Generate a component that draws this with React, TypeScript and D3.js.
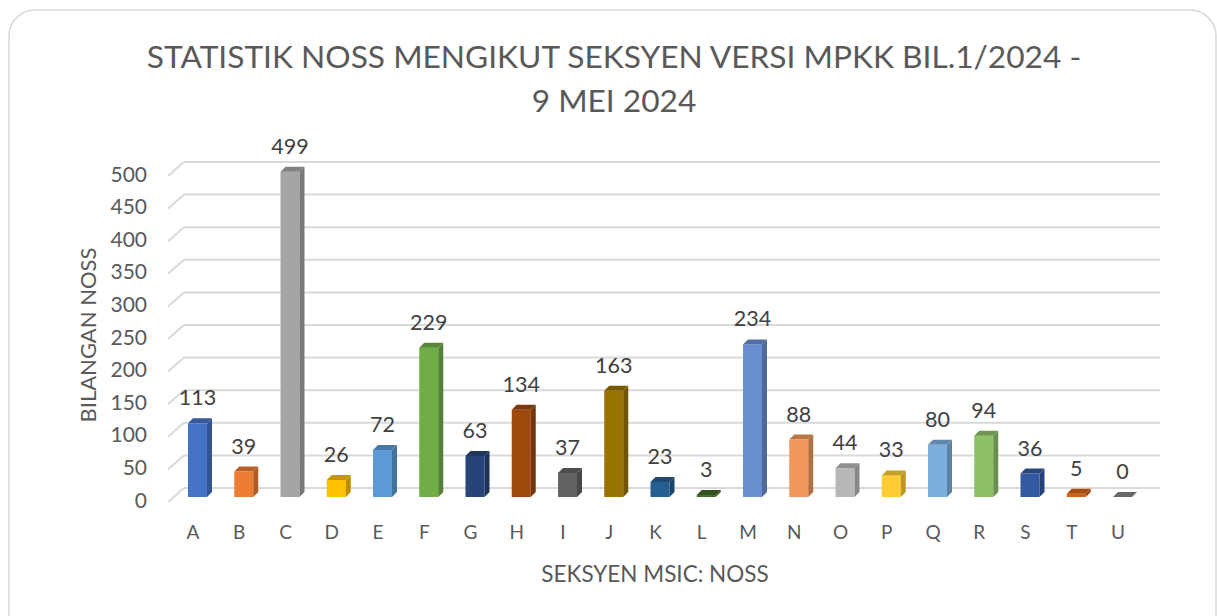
import React from "react";
import * as d3 from "d3";

const categories = ["A","B","C","D","E","F","G","H","I","J","K","L","M","N","O","P","Q","R","S","T","U"];
const values = [113,39,499,26,72,229,63,134,37,163,23,3,234,88,44,33,80,94,36,5,0];
const colors = ["#4472C4","#ED7D31","#A5A5A5","#FFC000","#5B9BD5","#70AD47","#264478","#9E480E","#636363","#997300","#255E91","#43682B","#698ED0","#F1975A","#B7B7B7","#FFCD33","#7CAFDD","#8CC168","#335AA1","#D26012","#848484"];
const yTicks = [0,50,100,150,200,250,300,350,400,450,500];
const titleLines = ["STATISTIK NOSS MENGIKUT SEKSYEN VERSI MPKK BIL.1/2024 -", "9 MEI 2024"];
const yAxisTitle = "BILANGAN NOSS";
const xAxisTitle = "SEKSYEN MSIC: NOSS";

const W = 1217, H = 616;
const FONT = "Lato, 'Open Sans', sans-serif";
const TXT = "#595959";

export default function App() {
  const x = d3.scalePoint<string>().domain(categories).range([193, 1118]);
  const h = d3.scaleLinear().domain([0, 500]).range([0, 326]);
  const floorFront = 502, floorBack = 488, barBase = 497;
  const diagX0 = 168, diagX1 = 184, gridRight = 1160;
  const bw = 19, dx = 5, dy = -5;

  return (
    <svg width={W} height={H} style={{ position: "absolute", left: 0, top: 0, background: "#fff" }} fontFamily={FONT}>
      <rect x={9} y={10} width={1207} height={640} rx={26} ry={26} fill="#fff" stroke="#d9d9d9" strokeWidth={1.5} />
      {titleLines.map((t, i) => (
        <text key={i} x={614} y={56 + i * 44} textAnchor="middle" dominantBaseline="central" fontSize={31.7} fill={TXT}>{t}</text>
      ))}
      {yTicks.map((v) => (
        <g key={v}>
          <line x1={diagX0} y1={floorFront - h(v)} x2={diagX1} y2={floorBack - h(v)} stroke="#d9d9d9" strokeWidth={2} />
          <line x1={diagX1} y1={floorBack - h(v)} x2={gridRight} y2={floorBack - h(v)} stroke="#d9d9d9" strokeWidth={2} />
          <text x={147} y={(floorFront + floorBack) / 2 - h(v) + 4} textAnchor="end" dominantBaseline="central" fontSize={21} fill={TXT}>{v}</text>
        </g>
      ))}
      {categories.map((c, i) => {
        const x0 = (x(c) as number) - 5;
        const top = barBase - h(values[i]);
        const col = d3.color(colors[i])!;
        const side = col.darker(0.85).formatHex();
        const topC = col.darker(0.7).formatHex();
        return (
          <g key={c}>
            <rect x={x0} y={top} width={bw} height={barBase - top} fill={colors[i]} />
            <polygon points={`${x0 + bw},${top} ${x0 + bw + dx},${top + dy} ${x0 + bw + dx},${barBase + dy} ${x0 + bw},${barBase}`} fill={side} />
            <polygon points={`${x0},${top} ${x0 + dx},${top + dy} ${x0 + bw + dx},${top + dy} ${x0 + bw},${top}`} fill={topC} />
            <text x={x0 + bw / 2} y={top - 26} textAnchor="middle" dominantBaseline="central" fontSize={21.5} fill="#404040">{values[i]}</text>
            <text x={x(c)} y={531} textAnchor="middle" dominantBaseline="central" fontSize={19} fill={TXT}>{c}</text>
          </g>
        );
      })}
      <text transform={`translate(87,335) rotate(-90)`} textAnchor="middle" dominantBaseline="central" fontSize={22} fill={TXT}>{yAxisTitle}</text>
      <text x={655} y={573} textAnchor="middle" dominantBaseline="central" fontSize={22.5} fill={TXT}>{xAxisTitle}</text>
    </svg>
  );
}
